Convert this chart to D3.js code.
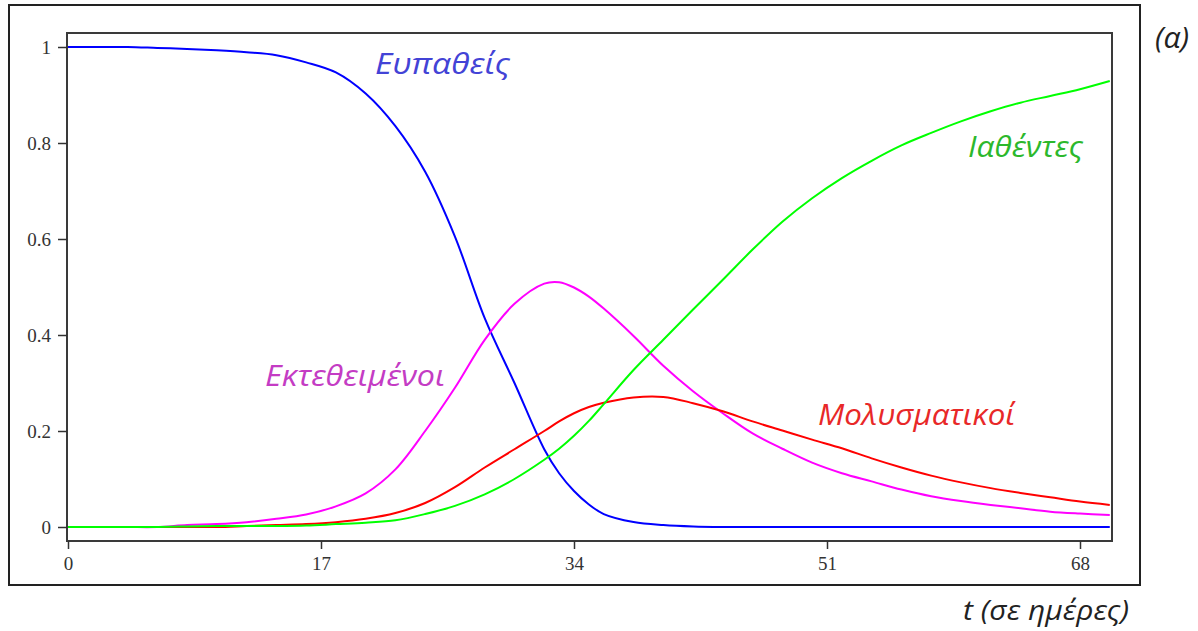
<!DOCTYPE html>
<html>
<head>
<meta charset="utf-8">
<script src="https://cdn.jsdelivr.net/npm/d3@7"></script>
<style>
  html, body { margin: 0; padding: 0; background: #fff; }
  svg { display: block; }
</style>
</head>
<body>
<svg id="chart" width="1198" height="631"></svg>
<script>
// ---- data ----
const days = [0,2,4,6,8,10,12,14,16,18,20,22,24,26,28,30,32,33,34,35,36,38,40,42,44,46,48,50,52,54,56,58,60,62,64,66,68,70];
const susceptible = [1.0,1.0,1.0,0.998,0.996,0.993,0.989,0.983,0.968,0.947,0.903,0.835,0.74,0.605,0.435,0.30,0.162,0.112,0.075,0.047,0.027,0.0104,0.004,0.001,0,0,0,0,0,0,0,0,0,0,0,0,0,0];
const exposed = [0,0,0,0,0.004,0.006,0.01,0.017,0.026,0.043,0.07,0.12,0.2,0.29,0.39,0.465,0.507,0.51,0.499,0.48,0.455,0.398,0.336,0.283,0.237,0.195,0.163,0.134,0.112,0.095,0.078,0.064,0.054,0.046,0.039,0.032,0.028,0.025];
const infectious = [0,0,0,0,0,0,0.002,0.004,0.006,0.01,0.017,0.029,0.05,0.083,0.124,0.162,0.2,0.22,0.237,0.25,0.259,0.27,0.271,0.258,0.241,0.22,0.201,0.182,0.164,0.143,0.124,0.107,0.093,0.081,0.071,0.062,0.053,0.046];
const recovered = [0,0,0,0,0.001,0.002,0.002,0.002,0.003,0.006,0.009,0.014,0.027,0.044,0.068,0.1,0.14,0.163,0.19,0.221,0.256,0.327,0.39,0.453,0.515,0.578,0.636,0.685,0.727,0.763,0.795,0.821,0.845,0.866,0.884,0.898,0.912,0.929];
const xTicks = [0,17,34,51,68];
const yTicks = [0,0.2,0.4,0.6,0.8,1];
const seriesNames = ["Ευπαθείς","Εκτεθειμένοι","Μολυσματικοί","Ιαθέντες"];
const xTitle = "t (σε ημέρες)";
const panelTitle = "(α)";

// ---- layout ----
const svg = d3.select("#chart");
const x = d3.scaleLinear().domain([0, 68]).range([68, 1080]);
const y = d3.scaleLinear().domain([0, 1]).range([527, 47]);
const box = {x0: 67, x1: 1112, y0: 33, y1: 541};

// outer frame
svg.append("rect").attr("x", 9).attr("y", 5).attr("width", 1131).attr("height", 580)
  .attr("fill", "none").attr("stroke", "#222").attr("stroke-width", 2);

// plot box
svg.append("rect").attr("x", box.x0).attr("y", box.y0)
  .attr("width", box.x1 - box.x0).attr("height", box.y1 - box.y0)
  .attr("fill", "none").attr("stroke", "#3a3a3a").attr("stroke-width", 2);

// y axis
const yAxis = d3.axisLeft(y).tickValues(yTicks).tickSize(9).tickPadding(7)
  .tickFormat(d => d === 0 ? "0" : d === 1 ? "1" : d3.format(".1f")(d));
const yg = svg.append("g").attr("transform", `translate(${box.x0},0)`).call(yAxis);
yg.select(".domain").remove();
yg.selectAll("line").attr("stroke", "#333").attr("stroke-width", 1.5);
yg.selectAll("text").attr("font-family", "Liberation Serif, serif").attr("font-size", 19).attr("fill", "#333");

// x axis
const xAxis = d3.axisBottom(x).tickValues(xTicks).tickSize(8).tickPadding(8).tickFormat(d3.format("d"));
const xg = svg.append("g").attr("transform", `translate(0,${box.y1})`).call(xAxis);
xg.select(".domain").remove();
xg.selectAll("line").attr("stroke", "#333").attr("stroke-width", 1.5);
xg.selectAll("text").attr("font-family", "Liberation Serif, serif").attr("font-size", 19).attr("fill", "#333");

// lines
const seriesData = [
  {vals: susceptible, color: "#0000ff"},
  {vals: exposed, color: "#ff00ff"},
  {vals: infectious, color: "#ff0000"},
  {vals: recovered, color: "#00ff00"}
];
const line = d3.line().x(d => x(d[0])).y(d => y(d[1])).curve(d3.curveCatmullRom.alpha(0.5));
seriesData.forEach(s => {
  svg.append("path")
    .datum(days.map((t, i) => [t, s.vals[i]]))
    .attr("d", line)
    .attr("fill", "none")
    .attr("stroke", s.color)
    .attr("stroke-width", 2);
});

// series labels
const labelFont = "'Open Sans', 'DejaVu Sans', sans-serif";
const labels = [
  {text: seriesNames[0], x: 375, y: 74, w: 135, color: "#4343d6"},
  {text: seriesNames[1], x: 265, y: 386, w: 180, color: "#c43cc4"},
  {text: seriesNames[2], x: 818, y: 425, w: 197, color: "#e82828"},
  {text: seriesNames[3], x: 968, y: 157, w: 115, color: "#2cb82c"}
];
labels.forEach(l => {
  svg.append("text").attr("x", l.x).attr("y", l.y).text(l.text)
    .attr("font-family", labelFont).attr("font-style", "italic")
    .attr("font-size", 30).attr("fill", l.color)
    .attr("textLength", l.w).attr("lengthAdjust", "spacingAndGlyphs");
});

// axis title
svg.append("text").attr("x", 963).attr("y", 620)
  .text(xTitle).attr("font-family", labelFont).attr("font-style", "italic")
  .attr("font-size", 28).attr("fill", "#222")
  .attr("textLength", 166).attr("lengthAdjust", "spacingAndGlyphs");

// panel title
svg.append("text").attr("x", 1155).attr("y", 48).text(panelTitle)
  .attr("font-family", labelFont).attr("font-style", "italic")
  .attr("font-size", 30).attr("fill", "#222");
</script>
</body>
</html>
